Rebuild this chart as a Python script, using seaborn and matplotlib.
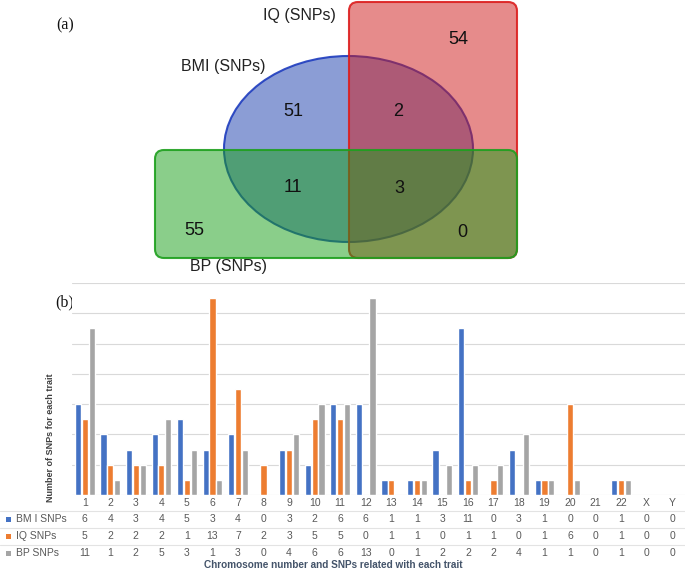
import numpy as np
import pandas as pd
import matplotlib
matplotlib.use("Agg")
import matplotlib.pyplot as plt
import matplotlib.transforms as mtransforms
from matplotlib.patches import Ellipse, FancyBboxPatch, Rectangle
import seaborn as sns

# Venn (a) region counts
venn_sets = ["IQ (SNPs)", "BMI (SNPs)", "BP (SNPs)"]
venn_counts = {"IQ only": 54, "BMI only": 51, "BMI & IQ": 2,
               "BMI & BP": 11, "all three": 3, "BP only": 55, "IQ & BP": 0}

# Bar chart (b) data
chromosomes = [str(i) for i in range(1, 23)] + ["X", "Y"]
bmi_snps = [6, 4, 3, 4, 5, 3, 4, 0, 3, 2, 6, 6, 1, 1, 3, 11, 0, 3, 1, 0, 0, 1, 0, 0]
iq_snps = [5, 2, 2, 2, 1, 13, 7, 2, 3, 5, 5, 0, 1, 1, 0, 1, 1, 0, 1, 6, 0, 1, 0, 0]
bp_snps = [11, 1, 2, 5, 3, 1, 3, 0, 4, 6, 6, 13, 0, 1, 2, 2, 2, 4, 1, 1, 0, 1, 0, 0]
trait_names = ["BM I SNPs", "IQ SNPs", "BP SNPs"]
trait_colors = ["#4472C4", "#ED7D31", "#A5A5A5"]

sns.set_style("white")
plt.rcParams["font.family"] = ["Liberation Sans", "DejaVu Sans"]

W, H = 685, 569
fig = plt.figure(figsize=(W / 100, H / 100), dpi=100)

# background axes in pixel coordinates (origin top-left)
bg = fig.add_axes([0, 0, 1, 1])
bg.set_xlim(0, W)
bg.set_ylim(H, 0)
bg.axis("off")

# ---- panel (a): Venn diagram ----
circle = Ellipse((348.5, 149), 249, 186, facecolor=(25/255, 61/255, 173/255, 0.5),
                 edgecolor=(30/255, 60/255, 190/255, 0.9), lw=1.5, zorder=1)
bg.add_patch(circle)
red = FancyBboxPatch((349, 2), 168, 256, boxstyle="round,pad=0,rounding_size=9",
                     facecolor=(207/255, 25/255, 25/255, 0.5),
                     edgecolor=(220/255, 30/255, 30/255, 0.9), lw=1.5, zorder=2)
bg.add_patch(red)
green = FancyBboxPatch((155, 150), 362, 108, boxstyle="round,pad=0,rounding_size=9",
                       facecolor=(23/255, 159/255, 23/255, 0.5),
                       edgecolor=(30/255, 160/255, 30/255, 0.9), lw=1.5, zorder=3)
bg.add_patch(green)

label_pos = {"IQ (SNPs)": (299, 15), "BMI (SNPs)": (223, 66), "BP (SNPs)": (229, 266)}
for name in venn_sets:
    x, y = label_pos[name]
    bg.text(x, y, name, ha="center", va="center", fontsize=11.5, color="#222222", zorder=5)

count_pos = {"IQ only": (458, 39), "BMI only": (293, 111), "BMI & IQ": (398, 111),
             "BMI & BP": (293, 187), "all three": (399, 188), "BP only": (194, 230),
             "IQ & BP": (462, 232)}
for key, val in venn_counts.items():
    x, y = count_pos[key]
    bg.text(x, y, str(val), ha="center", va="center", fontsize=13, color="#111111", zorder=5)

bg.text(65, 25, "(a)", ha="center", va="center", fontsize=11.5,
        family=["Liberation Serif", "DejaVu Serif"], color="#111111")

# ---- panel (b): grouped bar chart with data table ----
ax = fig.add_axes([72 / W, (H - 495) / H, 613 / W, 212 / H])
df = pd.DataFrame({
    "chrom": chromosomes * 3,
    "count": bmi_snps + iq_snps + bp_snps,
    "trait": [trait_names[0]] * 24 + [trait_names[1]] * 24 + [trait_names[2]] * 24,
})
sns.barplot(data=df, x="chrom", y="count", hue="trait", order=chromosomes,
            hue_order=trait_names, palette=trait_colors, width=0.8, gap=0.1,
            saturation=1, ax=ax, legend=False, zorder=3)
ax.set_ylim(0, 14)
ax.set_xlim(-0.5, len(chromosomes) - 0.5)
ax.set_yticks(np.arange(0, 15, 2))
ax.set_yticklabels([])
ax.grid(axis="y", color="#D9D9D9", lw=0.8, zorder=0)
ax.set_axisbelow(True)
for s in ax.spines.values():
    s.set_visible(False)
ax.tick_params(axis="both", length=0)
ax.tick_params(axis="x", pad=2.5, labelsize=7.5, labelcolor="#595959")
ax.set_xlabel("")
ax.set_ylabel("")

bg.text(65, 302, "(b)", ha="center", va="center", fontsize=11.5,
        family=["Liberation Serif", "DejaVu Serif"], color="#111111")
bg.text(51, 438, "Number of SNPs for each trait", rotation=90, ha="center", va="center",
        fontsize=6.5, fontweight="bold", color="#404040")

# data table under the axis
tr = mtransforms.blended_transform_factory(ax.transData, bg.transData)
row_y = [519, 536, 553]
for series, name, color, y in zip([bmi_snps, iq_snps, bp_snps], trait_names, trait_colors, row_y):
    bg.add_patch(Rectangle((6, y - 2.5), 5, 5, facecolor=color, edgecolor="none"))
    bg.text(16, y, name, ha="left", va="center", fontsize=7.5, color="#595959")
    for j, v in enumerate(series):
        ax.text(j, y, str(v), transform=tr, ha="center", va="center",
                fontsize=7.5, color="#595959", clip_on=False)
for y in [511, 528, 545]:
    bg.plot([0, W], [y, y], color="#E3E3E3", lw=0.8, zorder=0)

bg.text(333, 565, "Chromosome number and SNPs related with each trait", ha="center",
        va="center", fontsize=7.2, fontweight="bold", color="#44546A")

fig.savefig("out.png", dpi=100)
